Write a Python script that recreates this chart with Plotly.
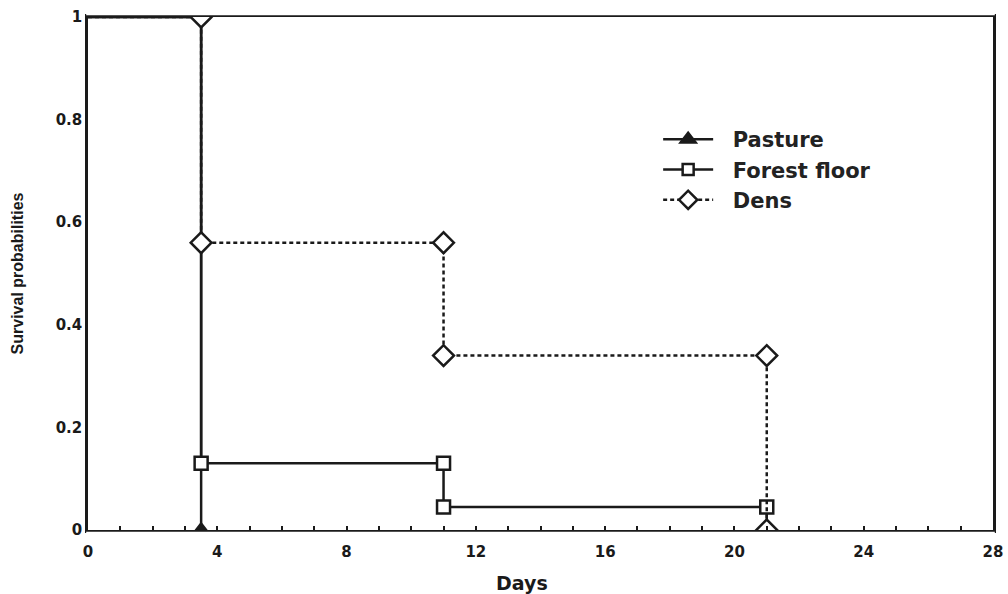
import plotly.graph_objects as go

# Kaplan-Meier style survival steps (days, survival probability)
pasture_days = [0, 3.5, 3.5]
pasture_surv = [1, 1, 0]
pasture_mark = [0, 0, 13]

forest_days = [0, 3.5, 3.5, 11, 11, 21, 21]
forest_surv = [1, 1, 0.13, 0.13, 0.045, 0.045, 0]
forest_mark = [0, 0, 13, 13, 13, 13, 0]

dens_days = [0, 3.5, 3.5, 11, 11, 21, 21]
dens_surv = [1, 1, 0.56, 0.56, 0.34, 0.34, 0]
dens_mark = [0, 16, 16, 16, 16, 16, 16]

series_names = ["Pasture", "Forest floor", "Dens"]

x_ticks = [0, 4, 8, 12, 16, 20, 24, 28]
y_ticks = [0, 0.2, 0.4, 0.6, 0.8, 1]
y_tick_text = ["0", "0.2", "0.4", "0.6", "0.8", "1"]

INK = "#1a1a1a"
WIDE = "DejaVu Sans, Verdana, sans-serif"
NARROW = "Liberation Sans, Arial, sans-serif"
GAP = "\u00a0\u00a0"

styles = [
    dict(line=dict(color=INK, width=2.5),
         symbol="triangle-up", fill=INK),
    dict(line=dict(color=INK, width=2.5),
         symbol="square", fill="white"),
    dict(line=dict(color=INK, width=2.5, dash="4px,3px"),
         symbol="diamond", fill="white"),
]
data = [
    (pasture_days, pasture_surv, pasture_mark),
    (forest_days, forest_surv, forest_mark),
    (dens_days, dens_surv, dens_mark),
]
legend_sizes = [13, 11, 14]

fig = go.Figure()

for name, (xs, ys, sizes), st, lsz in zip(series_names, data, styles, legend_sizes):
    fig.add_trace(go.Scatter(
        x=xs, y=ys, name=name, mode="lines+markers", showlegend=False,
        cliponaxis=True,
        line=st["line"],
        marker=dict(symbol=st["symbol"], size=sizes, color=st["fill"],
                    opacity=1, line=dict(color=INK, width=2.5)),
    ))
    # legend entry with a fixed-size symbol
    fig.add_trace(go.Scatter(
        x=[None], y=[None], name=GAP + name, mode="lines+markers",
        line=st["line"],
        marker=dict(symbol=st["symbol"], size=lsz, color=st["fill"],
                    opacity=1, line=dict(color=INK, width=2.5)),
    ))

# white bands just outside the frame keep edge markers cut at the plot border
edge_bands = [
    dict(type="rect", xref="paper", yref="paper", x0=-0.002, x1=1.002,
         y0=-0.022, y1=-0.0035, fillcolor="white", line_width=0, layer="above"),
    dict(type="rect", xref="paper", yref="paper", x0=-0.002, x1=1.002,
         y0=1.0035, y1=1.03, fillcolor="white", line_width=0, layer="above"),
]

fig.update_layout(
    width=1008, height=594,
    margin=dict(l=88, r=15, t=17, b=64),
    paper_bgcolor="white", plot_bgcolor="white",
    font=dict(family=WIDE, color=INK),
    shapes=edge_bands,
    annotations=[dict(
        text="<b>Days</b>", xref="paper", yref="paper", x=0.48, y=-0.103,
        xanchor="center", yanchor="middle", showarrow=False,
        font=dict(size=19, family=WIDE, color=INK),
    )],
    xaxis=dict(
        range=[0, 28], tickvals=x_ticks, ticktext=[str(v) for v in x_ticks],
        ticks="inside", ticklen=4, tickwidth=2, tickcolor=INK,
        minor=dict(dtick=1, ticks="inside", ticklen=4, tickwidth=2, tickcolor=INK),
        showline=True, linecolor=INK, linewidth=2.5, mirror=True,
        showgrid=False, zeroline=False, automargin=False,
        tickfont=dict(size=15, family=WIDE, weight="bold"),
        ticklabelstandoff=6,
    ),
    xaxis2=dict(
        range=[0, 24], overlaying="x", side="top", dtick=1,
        ticks="inside", ticklen=4, tickwidth=2, tickcolor=INK, automargin=False,
        showticklabels=False, showgrid=False, zeroline=False, showline=False,
    ),
    yaxis=dict(
        range=[0, 1], tickvals=y_ticks, ticktext=y_tick_text,
        ticks="", showline=True, linecolor=INK, linewidth=2.5, mirror=True,
        showgrid=False, zeroline=False, automargin=False,
        tickfont=dict(size=15, family=WIDE, weight="bold"),
        title=dict(text="<b>Survival probabilities</b>",
                   font=dict(size=16, family=NARROW), standoff=29),
    ),
    legend=dict(
        x=0.630, y=0.801, xanchor="left", yanchor="top",
        bgcolor="rgba(0,0,0,0)", borderwidth=0,
        font=dict(size=21, family=WIDE, color="#222", weight="bold"),
        itemwidth=50,
    ),
)

fig.write_html("out.html")
